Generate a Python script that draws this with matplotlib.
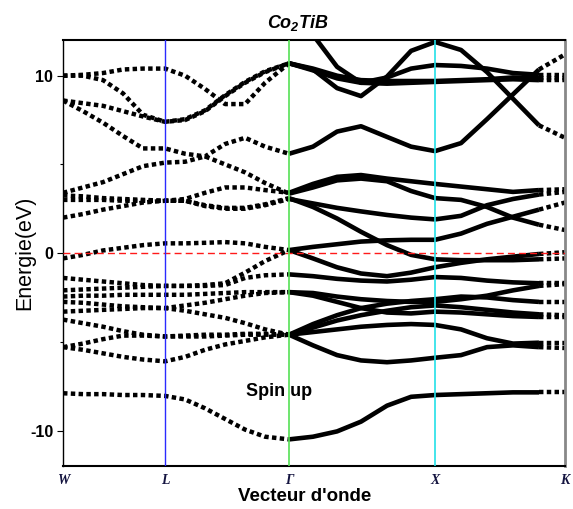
import numpy as np
import matplotlib
matplotlib.use("Agg")
import matplotlib.pyplot as plt

plt.rcParams["mathtext.fontset"] = "custom"
plt.rcParams["mathtext.it"] = "Liberation Sans:bold:italic"
plt.rcParams["mathtext.rm"] = "Liberation Sans:bold:italic"

nan = np.nan

# k-path positions (W - L - Gamma - X - K) and their labels
k_path = [0.000, 0.137, 0.274, 0.411, 0.548, 0.699, 0.836, 0.973, 1.110, 1.247,
          1.384, 1.548, 1.712, 1.877, 2.041, 2.219, 2.384, 2.548, 2.726, 2.904,
          3.082, 3.260, 3.438]
sym_pos = [0.000, 0.699, 1.548, 2.548, 3.438]
sym_labels = ["W", "L", "Γ", "X", "K"]

# band energies (eV) along k_path
band_01 = [-7.9, -7.95, -7.95, -8.0, -8.0, -8.05, -8.25, -8.75, -9.35, -9.95, -10.35, -10.5,
           -10.35, -10.05, -9.5, -8.6, -8.1, -8.0, -7.95, -7.9, -7.85, -7.85, -7.85]
band_02 = [-5.3, -5.45, -5.65, -5.85, -6.0, -6.1, -5.85, -5.45, -5.15, -4.95, -4.75, -4.6,
           -5.2, -5.75, -6.05, -6.15, -6.05, -5.9, -5.75, -5.3, -5.2, -5.3, -5.35]
band_03 = [-5.3, -5.1, -4.85, -4.65, -4.65, -4.7, -4.7, -4.7, -4.65, -4.6, -4.6, -4.6,
           -4.45, -4.3, -4.15, -4.05, -4.0, -4.05, -4.3, -4.8, -5.1, -5.05, -5.05]
band_04 = [-3.75, -3.95, -4.15, -4.4, -4.6, -4.7, -4.65, -4.6, -4.6, -4.55, -4.55, -4.6,
           -4.2, -3.8, -3.5, -3.25, -3.05, -2.95, -3.05, -3.2, -3.35, -3.45, -3.5]
band_05 = [-3.3, -3.25, -3.2, -3.15, -3.1, -3.1, -3.25, -3.45, -3.65, -3.95, -4.3, -4.6,
           -4.0, -3.5, -3.1, -2.85, -2.7, -2.6, -2.45, -2.5, -2.65, -2.75, -2.75]
band_06 = [-2.75, -2.8, -2.9, -3.0, -3.05, -3.1, -2.95, -2.8, -2.6, -2.4, -2.25, -2.2,
           -2.4, -2.75, -3.1, -3.35, -3.4, -3.3, -3.35, -3.45, -3.55, -3.6, -3.6]
band_07 = [-2.45, -2.4, -2.4, -2.35, -2.35, -2.35, -2.35, -2.3, -2.25, -2.2, -2.2, -2.2,
           -2.25, -2.45, -2.6, -2.7, -2.75, -2.75, -2.6, -2.4, -2.1, -1.85, -1.75]
band_08 = [-2.1, -2.05, -2.0, -1.95, -1.9, -1.85, -1.85, -1.85, -1.8, -1.4, -1.25, -1.2,
           -1.3, -1.45, -1.55, -1.6, -1.5, -1.35, -1.4, -1.55, -1.65, -1.7, -1.7]
band_09 = [-1.4, -1.5, -1.6, -1.7, -1.8, -1.85, -1.85, -1.8, -1.7, -1.1, -0.45, 0.17,
           -0.3, -0.8, -1.15, -1.3, -1.1, -0.8, -0.55, -0.35, -0.2, -0.05, 0.05]
band_10 = [-0.3, -0.1, 0.15, 0.3, 0.45, 0.55, 0.55, 0.58, 0.62, 0.55, 0.35, 0.17,
           0.35, 0.5, 0.65, 0.72, 0.75, 0.75, 1.1, 1.65, 2.05, 2.45, 2.85]
band_11 = [2.0, 2.2, 2.45, 2.65, 2.85, 2.95, 2.95, 2.7, 2.55, 2.55, 2.75, 3.1,
           2.6, 1.95, 1.2, 0.45, -0.1, -0.35, -0.4, -0.4, -0.4, -0.35, -0.3]
band_12 = [3.0, 3.0, 3.0, 2.95, 2.95, 2.95, 3.05, 3.4, 3.7, 3.7, 3.55, 3.4,
           3.9, 4.3, 4.4, 4.2, 4.05, 3.9, 3.75, 3.6, 3.45, 3.55, 3.6]
band_13 = [3.4, 3.7, 4.0, 4.45, 4.9, 5.1, 5.15, 5.45, 5.0, 4.55, 3.95, 3.35,
           3.7, 4.1, 4.2, 4.05, 3.5, 3.1, 3.0, 2.6, 2.0, 1.6, 1.3]
band_14 = [3.25, 3.2, 3.1, 3.05, 3.0, 2.95, 2.95, 2.65, 2.5, 2.5, 2.7, 3.05,
           2.8, 2.55, 2.35, 2.15, 2.0, 1.9, 2.1, 2.7, 3.05, 3.3, 3.45]
band_15 = [8.6, 8.0, 7.35, 6.6, 5.9, 5.9, 5.6, 5.45, 6.15, 6.5, 6.0, 5.6,
           6.0, 6.85, 7.15, 6.55, 6.0, 5.75, 6.2, 7.55, 8.95, 10.35, 11.2]
band_16 = [10.0, 10.05, 10.15, 10.35, 10.4, 10.4, 10.0, 9.25, 8.4, 8.4, 9.6, 10.7,
           10.4, 10.0, 9.75, 9.7, 9.7, 9.7, 9.75, 9.8, 9.9, 9.85, 9.85]
band_17 = [10.0, 10.0, 9.75, 9.0, 7.8, 7.4, 7.55, 8.05, 8.9, 9.65, 10.25, 10.7,
           10.35, 9.3, 8.85, 9.95, 11.4, 11.9, 11.45, 10.2, 8.7, 7.2, 6.5]
band_18 = [8.6, 8.45, 8.3, 8.0, 7.7, 7.4, 7.5, 8.0, 8.85, 9.6, 10.2, 10.7,
           10.3, 9.85, 9.6, 9.9, 10.4, 10.6, 10.55, 10.4, 10.15, 10.05, 10.05]
band_19 = [nan, nan, nan, nan, nan, nan, nan, nan, nan, nan, nan, 13.5,
           12.3, 10.5, 9.6, 9.55, 9.6, 9.65, 9.7, 9.75, 9.8, 9.75, 9.75]

bands = [band_01, band_02, band_03, band_04, band_05, band_06, band_07, band_08,
         band_09, band_10, band_11, band_12, band_13, band_14, band_15, band_16,
         band_17, band_18, band_19]

fig = plt.figure(figsize=(5.73, 5.09), dpi=100)
ax = fig.add_axes([0.110, 0.0845, 0.876, 0.8365])

k = np.array(k_path)
i_gamma = 11
i_end = 21
dotted = dict(color="black", lw=3.2, linestyle=(0, (1, 0.75)), dash_capstyle="butt", zorder=2)
solid = dict(color="black", lw=3.3, solid_capstyle="butt", zorder=2)
for b in bands:
    e = np.array(b, dtype=float)
    # W-L-Gamma drawn as square dots, Gamma-X-K as continuous line
    ax.plot(k[:i_gamma + 1], e[:i_gamma + 1], **dotted)
    ax.plot(k[i_gamma:i_end + 1], e[i_gamma:i_end + 1], **solid)
    ax.plot(k[i_end:], e[i_end:], **dotted)

# Fermi level and high-symmetry lines
ax.axhline(0, color="#ff1a1a", lw=1.0, linestyle=(0, (5, 3)), zorder=3)
ax.axvline(sym_pos[1], color="#2a2aff", lw=1.0, zorder=3)
ax.axvline(sym_pos[2], color="#55e055", lw=1.2, zorder=3)
ax.axvline(sym_pos[3], color="#22e0e8", lw=1.2, zorder=3)

ax.set_xlim(sym_pos[0], sym_pos[-1])
ax.set_ylim(-12, 12)

ax.set_yticks([-10, 0, 10])
ax.set_yticks([-5, 5], minor=True)
ax.set_yticklabels(["-10", "0", "10"], fontsize=11.5, fontweight="bold",
                   family="Liberation Sans")
ax.tick_params(axis="y", which="major", direction="out", length=4, width=0.8, pad=3)
ax.tick_params(axis="y", which="minor", direction="out", length=2.5, width=0.8)

ax.set_xticks(sym_pos)
ax.set_xticklabels(sym_labels, fontsize=10, fontweight="bold", fontstyle="italic",
                   family="Liberation Serif", color="#141440")
ax.tick_params(axis="x", length=0, pad=6)

for side in ["top", "bottom"]:
    ax.spines[side].set_linewidth(1.5)
ax.spines["left"].set_linewidth(1.0)
ax.spines["right"].set_linewidth(2.0)
ax.spines["right"].set_color("#888888")

fig.text(298 / 573, 1 - 23 / 509, r"$Co_2TiB$", fontsize=13, ha="center", va="center")

ax.set_xlabel("Vecteur d'onde", fontsize=13.5, fontweight="bold", family="Liberation Sans")
ax.xaxis.set_label_coords(0.482, -0.052)
ax.xaxis.label.set_va("top")
ax.set_ylabel("Energie(eV)", fontsize=15.5, family="Liberation Sans")
ax.yaxis.set_label_coords(-0.056, 0.5)

ax.text(1.25, -7.8, "Spin up", fontsize=13, fontweight="bold", family="Liberation Sans",
        ha="left", va="center", zorder=4)

fig.savefig("out.png", dpi=100)
